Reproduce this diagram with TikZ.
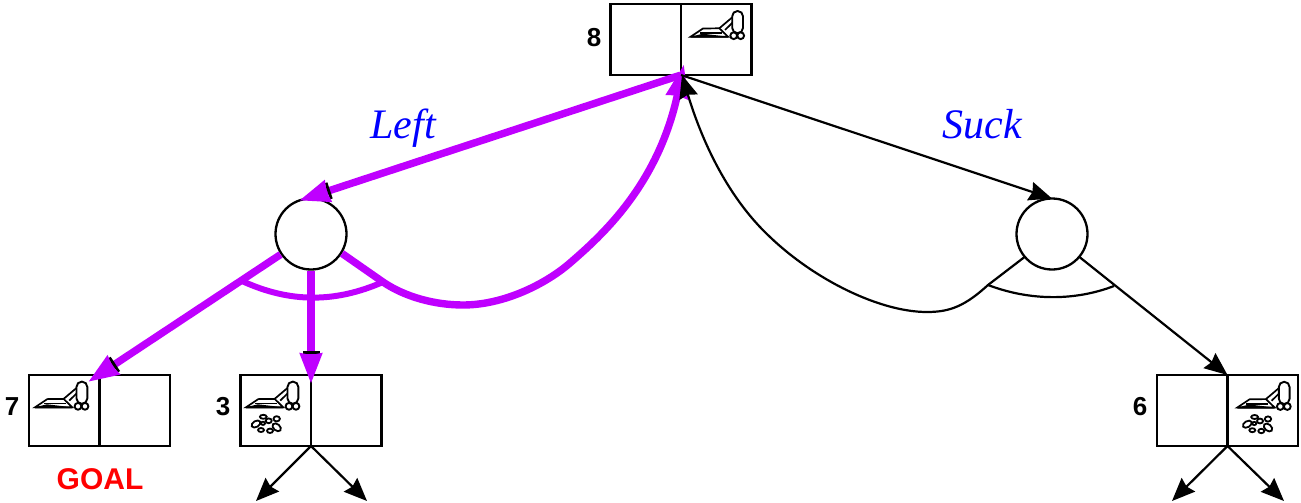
\documentclass[tikz,border=0pt]{standalone}
\usepackage{fontspec}
\setmainfont{Liberation Sans}
\newfontfamily\labelserif{Liberation Serif}
\usetikzlibrary{arrows.meta}
\definecolor{plan}{HTML}{BF00FF}
\tikzset{
  x=1pt,y=-1pt,
  statebox/.style={draw=black,line width=2.3pt,fill=white,minimum width=141pt,minimum height=71pt,inner sep=0pt,outer sep=0pt},
  ornode/.style={circle,draw=black,line width=2.3pt,fill=white,minimum size=71pt,inner sep=0pt,outer sep=0pt},
  blackedge/.style={draw=black,line width=2.2pt,-{Stealth[length=23pt,width=19pt,inset=2.5pt]}},
  planedge/.style={draw=plan,line width=7.4pt,line join=round,shorten <=1.2pt,-{Bar[black,width=17pt,line width=2.8pt,length=2.8pt,sep=0pt]Stealth[plan,length=30pt,width=21pt,inset=1pt]}},
  planhead/.style={draw=plan,line width=7.4pt,line join=round,shorten <=1.2pt,-{Stealth[plan,length=33pt,width=21pt,inset=1pt]}},
  planarc/.style={draw=plan,line width=6pt},
  blackarc/.style={draw=black,line width=2.2pt},
  value/.style={font=\bfseries\fontsize{26}{26}\selectfont,inner sep=0pt},
  action/.style={font=\labelserif\itshape\fontsize{42}{42}\selectfont,text=blue,inner sep=0pt,anchor=base},
  goaltext/.style={font=\bfseries\fontsize{30}{30}\selectfont,text=red,inner sep=0pt},
  vacuum/.pic={
    \draw[line width=1.7pt,line join=miter,fill=white] (0,0) -- (12.3,-8.2) -- (28.6,-8.4) -- (37.3,0) -- cycle;
    \draw[line width=1.4pt] (9,-3.6) -- (31,-3.6);
    \fill (0,0) -- (12,-3) -- (37.3,0) -- (37.3,1) -- (0,1) -- cycle;
    \draw[line width=1.7pt] (28.6,-8.4) -- (41.7,-19.5);
    \draw[line width=1.7pt] (34.3,-6.7) -- (41.7,-14);
    \draw[line width=1.9pt,fill=white,rounded corners=5.3pt] (41.5,-3.5) rectangle (52.3,-25.7);
    \draw[line width=1.9pt,fill=white] (43,-1) circle [radius=3.4pt];
    \draw[line width=1.9pt,fill=white] (50,-1) circle [radius=3.4pt];
  },
  dirt/.pic={
    \begin{scope}[line width=1.8pt,fill=white]
    \filldraw (10,16.7) ellipse [x radius=4.8pt,y radius=3pt,rotate=30];
    \filldraw (17.3,9.5) ellipse [x radius=3.4pt,y radius=2pt];
    \filldraw (22.7,13.5) ellipse [x radius=3pt,y radius=2.4pt];
    \filldraw (30.7,11.5) ellipse [x radius=3.2pt,y radius=2.6pt];
    \filldraw (15,22.7) ellipse [x radius=3pt,y radius=2pt];
    \filldraw (24,23.5) ellipse [x radius=3pt,y radius=2.2pt];
    \filldraw (30.7,20) ellipse [x radius=4.8pt,y radius=3.2pt,rotate=-40];
    \filldraw (17,16) ellipse [x radius=2pt,y radius=1.6pt];
    \end{scope}
  }
}
\begin{document}
\begin{tikzpicture}
\useasboundingbox (0,0) rectangle (1301,503);
% free ends and offsets of arrowheads
\coordinate (tip7) at (88,382);
\coordinate (tip3) at (311,384);
\coordinate (tipTop) at (684,64);
\coordinate (tipTopB) at (682,75);
\coordinate (d3a) at (256,501);
\coordinate (d3b) at (367,501);
\coordinate (d6a) at (1172,501);
\coordinate (d6b) at (1284,501);
\coordinate (pa1) at (242,281);
\coordinate (pa2) at (383,282);
\coordinate (ba1) at (988,285);
\coordinate (ba2) at (1114,286);

% nodes
\node[statebox] (top) at (681,39.5) {};
\node[statebox] (b7) at (99.5,410.5) {};
\node[statebox] (b3) at (311,410.5) {};
\node[statebox] (b6) at (1227.5,410.5) {};
\node[ornode] (l) at (311,234) {};
\node[ornode] (r) at (1052,234) {};
\draw[line width=2.3pt] (top.north) -- (top.south);
\draw[line width=2.3pt] (b7.north) -- (b7.south);
\draw[line width=2.3pt] (b3.north) -- (b3.south);
\draw[line width=2.3pt] (b6.north) -- (b6.south);

% icons
\pic at (690.7,36.7) {vacuum};
\pic at (35,407.3) {vacuum};
\pic at (246,407.3) {vacuum};
\pic at (246,407.3) {dirt};
\pic at (1237.3,407.5) {vacuum};
\pic at (1237.3,407.5) {dirt};

% texts
\node[value] (v8) at (594,38) {8};
\node[value] (v7) at (12,407) {7};
\node[value] (v3) at (223,407) {3};
\node[value] (v6) at (1140,407) {6};
\node[goaltext] (goal) at (100,479) {GOAL};
\node[action] (tleft) at (403,138) {Left};
\node[action] (tsuck) at (982,138) {Suck};

% plan connectors
\draw[planedge] (top.south) -- (l.110);
\draw[planedge] (l.214) -- (tip7);
\draw[planedge] (l.south) -- (tip3);
\draw[planhead] (l.-32) -- (pa2) .. controls (405,297) and (435,305) .. (463,305)
   .. controls (505,305) and (547,283) .. (570,263) .. controls (600,237) and (658,186) .. (tipTop);
\draw[planarc] (pa1) .. controls (290,303) and (335,303) .. (pa2);

% black connectors
\draw[blackedge] (top.south) -- (r.north);
\draw[blackedge] (r.220) -- (ba1) .. controls (965,306) and (950,312) .. (927,312)
   .. controls (880,312) and (815,280) .. (770,237) .. controls (725,195) and (700,135) .. (tipTopB);
\draw[blackedge] (r.-40) -- (b6.north);
\draw[blackarc] (ba1) .. controls (1030,301) and (1075,301) .. (ba2);
\draw[blackedge] (b3.south) -- (d3a);
\draw[blackedge] (b3.south) -- (d3b);
\draw[blackedge] (b6.south) -- (d6a);
\draw[blackedge] (b6.south) -- (d6b);
\end{tikzpicture}
\end{document}
